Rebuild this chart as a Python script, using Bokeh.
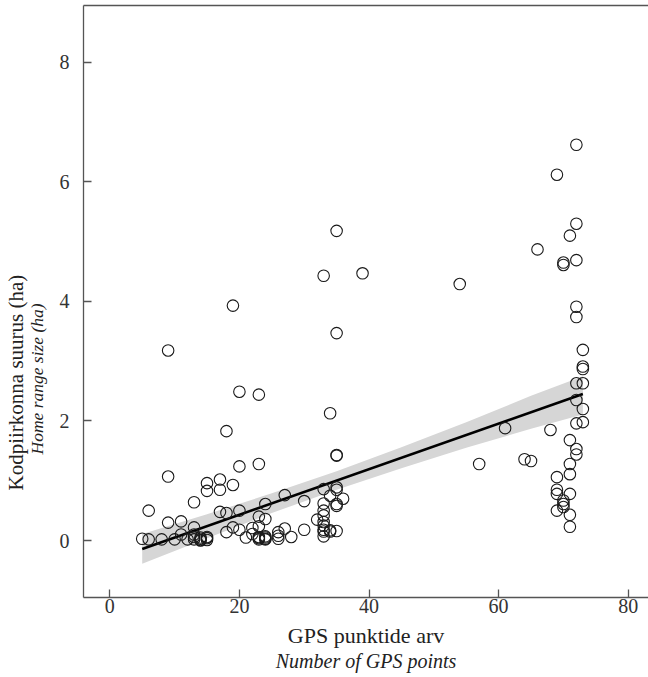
from bokeh.plotting import figure
from bokeh.models import FixedTicker, Range1d, ColumnDataSource, Title, LinearAxis
from bokeh.embed import file_html
from bokeh.resources import INLINE

# Data
gps_points = (
    [5, 6, 6, 8, 9, 9, 9, 10, 11, 11, 12]
    + [13, 13, 13, 13, 13, 14, 14, 14, 14, 15, 15, 15, 15, 15]
    + [17, 17, 17, 18, 18, 18, 19, 19, 19, 20, 20, 20, 20, 21, 22, 22]
    + [23, 23, 23, 23, 23, 23, 23, 24, 24, 24, 24, 24, 24]
    + [26, 26, 26, 27, 27, 28, 30, 30, 32]
    + [33] * 10 + [34] * 4 + [35] * 9 + [36, 39]
    + [54, 57, 61, 64, 65, 66, 68]
    + [69] * 5 + [70] * 5 + [71] * 7 + [72] * 10 + [73] * 6
)
home_range = (
    [0.03, 0.02, 0.50, 0.02, 3.18, 1.07, 0.30, 0.02, 0.32, 0.10, 0.02]
    + [0.64, 0.22, 0.06, 0.02, 0.10, 0.03, 0.01, 0.05, 0.00, 0.96, 0.83, 0.04, 0.01, 0.06]
    + [1.02, 0.85, 0.48, 1.83, 0.46, 0.14, 3.93, 0.93, 0.22, 2.49, 1.24, 0.50, 0.18, 0.05, 0.21, 0.11]
    + [2.44, 1.28, 0.40, 0.24, 0.06, 0.02, 0.04, 0.61, 0.36, 0.05, 0.02, 0.07, 0.03]
    + [0.14, 0.03, 0.08, 0.76, 0.20, 0.06, 0.66, 0.18, 0.35]
    + [4.43, 0.86, 0.62, 0.50, 0.42, 0.31, 0.25, 0.18, 0.15, 0.07]
    + [2.13, 0.75, 0.17, 0.15]
    + [5.18, 3.47, 1.42, 1.43, 0.89, 0.85, 0.61, 0.58, 0.16]
    + [0.70, 4.47]
    + [4.29, 1.28, 1.88, 1.36, 1.33, 4.87, 1.85]
    + [6.12, 1.06, 0.85, 0.78, 0.50]
    + [4.65, 4.61, 0.67, 0.61, 0.56]
    + [5.10, 1.68, 1.28, 1.11, 0.78, 0.43, 0.23]
    + [6.62, 5.30, 4.69, 3.91, 3.74, 2.63, 2.35, 1.96, 1.53, 1.44]
    + [3.19, 2.91, 2.87, 2.63, 2.20, 1.98]
)

# Fitted regression line and its 95% confidence band
fit_x = [5, 73]
fit_y = [-0.14, 2.45]
band_x = [5, 15, 25, 35, 45, 55, 65, 73]
band_lo = [-0.39, 0.04, 0.46, 0.85, 1.21, 1.55, 1.87, 2.11]
band_hi = [0.11, 0.44, 0.79, 1.16, 1.56, 1.98, 2.42, 2.75]

x_ticks = [0, 20, 40, 60, 80]
y_ticks = [0, 2, 4, 6, 8]

x_label = "GPS punktide arv"
x_label_en = "Number of GPS points"
y_label = "Kodpiirkonna suurus (ha)"
y_label_en = "Home range size (ha)"

pts = ColumnDataSource(dict(x=gps_points, y=home_range))
fit = ColumnDataSource(dict(x=fit_x, y=fit_y))
band = ColumnDataSource(dict(x=band_x, lower=band_lo, upper=band_hi))

FONT = "Liberation Serif"
AXIS_GRAY = "#555555"

p = figure(
    width=648, height=677,
    x_range=Range1d(-4.06, 83.13), y_range=Range1d(-0.953, 8.95),
    output_backend="svg", toolbar_location=None,
    min_border_left=83, min_border_right=0, min_border_top=5, min_border_bottom=80,
)
p.grid.visible = False
p.outline_line_color = None
p.background_fill_color = "white"
p.border_fill_color = "white"

p.varea(x="x", y1="lower", y2="upper", source=band, fill_color="#d6d6d6", fill_alpha=1.0)
p.line(x="x", y="y", source=fit, line_color="black", line_width=2.6)
p.scatter(x="x", y="y", source=pts, marker="circle", size=11.5, fill_color=None,
          line_color="#1a1a1a", line_width=1.1)

for ax in (p.xaxis[0], p.yaxis[0]):
    ax.axis_line_color = AXIS_GRAY
    ax.axis_line_width = 1.3
    ax.major_tick_line_color = AXIS_GRAY
    ax.major_tick_line_width = 1.3
    ax.major_tick_in = 8
    ax.major_tick_out = 0
    ax.minor_tick_line_color = None
    ax.major_label_text_font = FONT
    ax.major_label_text_font_size = "20px"
    ax.major_label_text_color = "#333333"

p.xaxis[0].ticker = FixedTicker(ticks=x_ticks)
p.yaxis[0].ticker = FixedTicker(ticks=y_ticks)
p.xaxis[0].major_label_standoff = 1
p.yaxis[0].major_label_standoff = 14

# top border line (box open on the right, as in the reference)
top = LinearAxis(ticker=FixedTicker(ticks=[]))
top.axis_line_color = AXIS_GRAY
top.axis_line_width = 1.3
top.major_tick_line_color = None
top.minor_tick_line_color = None
top.major_tick_out = 0
top.minor_tick_out = 0
top.major_label_standoff = 0
p.add_layout(top, "above")

# Two-line axis titles: inner first, outer second
def add_title(text, side, size, style, align, offset, standoff):
    t = Title(text=text, align=align, offset=offset, standoff=standoff,
              text_font=FONT, text_font_size=size, text_font_style=style,
              text_color="#222222", vertical_align="middle")
    p.add_layout(t, side)

add_title(x_label, "below", "22px", "normal", "center", 0, 12)
add_title(x_label_en, "below", "20px", "italic", "center", 0, -12)
add_title(y_label_en, "left", "17.5px", "italic", "left", 143, 17)
add_title(y_label, "left", "21px", "normal", "left", 107, -23)

open("out.html", "w").write(file_html(p, INLINE))
